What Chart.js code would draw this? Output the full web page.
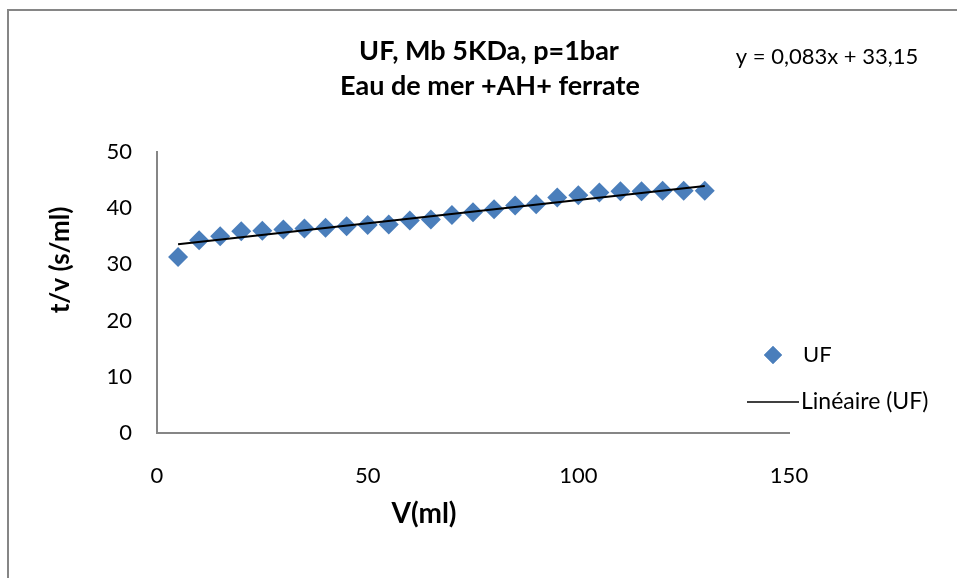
<!DOCTYPE html>
<html>
<head>
<meta charset="utf-8">
<script src="https://cdn.jsdelivr.net/npm/chart.js@4/dist/chart.umd.min.js"></script>
<style>
  html, body { margin: 0; padding: 0; background: #fff; }
  #wrap { position: relative; width: 957px; height: 578px; }
</style>
</head>
<body>
<div id="wrap"><canvas id="c" width="957" height="578"></canvas></div>
<script>
// Filtration volume V (ml) and t/V (s/ml)
const volumes = [5, 10, 15, 20, 25, 30, 35, 40, 45, 50, 55, 60, 65, 70, 75, 80, 85, 90, 95, 100, 105, 110, 115, 120, 125, 130];
const tOverV = [31.3, 34.3, 35.0, 35.9, 36.0, 36.2, 36.4, 36.5, 36.8, 37.0, 37.1, 37.8, 38.0, 38.8, 39.3, 39.8, 40.5, 40.7, 41.9, 42.3, 42.8, 43.0, 43.0, 43.1, 43.1, 43.1];

// Linear fit y = a x + b
const fitSlope = 0.083;
const fitIntercept = 33.15;
const fitRange = [5, 130];

const xTicks = [0, 50, 100, 150];
const yTicks = [0, 10, 20, 30, 40, 50];

const titleLines = ['UF, Mb 5KDa, p=1bar', 'Eau de mer +AH+ ferrate'];
const equationText = 'y = 0,083x + 33,15';
const xTitle = 'V(ml)';
const yTitle = 't/v (s/ml)';
const seriesName = 'UF';
const fitName = 'Linéaire (UF)';

const FONT = 'Lato, "Open Sans", sans-serif';
const BLUE = '#4A7EBB';
const AXIS = '#868686';

const points = volumes.map((v, i) => ({ x: v, y: tOverV[i] }));
const fitPoints = fitRange.map(v => ({ x: v, y: fitSlope * v + fitIntercept }));

// Frame, titles, equation and legend drawn on the canvas
const decor = {
  id: 'decor',
  beforeDraw(chart) {
    const ctx = chart.ctx;
    ctx.save();
    ctx.fillStyle = '#fff';
    ctx.fillRect(0, 0, chart.width, chart.height);
    ctx.strokeStyle = AXIS;
    ctx.lineWidth = 2;
    ctx.strokeRect(8, 10, chart.width + 20, chart.height + 20);
    ctx.restore();
  },
  afterDraw(chart) {
    const ctx = chart.ctx;
    ctx.save();
    ctx.fillStyle = '#000';
    ctx.textAlign = 'center';
    ctx.textBaseline = 'middle';
    ctx.font = 'bold 27px ' + FONT;
    ctx.fillText(titleLines[0], 489, 51);
    ctx.fillText(titleLines[1], 490, 86);

    ctx.font = '22px ' + FONT;
    ctx.fillText(equationText, 827, 57);

    ctx.font = 'bold 28px ' + FONT;
    ctx.fillText(xTitle, 424, 514);

    ctx.save();
    ctx.translate(61, 260);
    ctx.rotate(-Math.PI / 2);
    ctx.font = 'bold 26px ' + FONT;
    ctx.fillText(yTitle, 0, 0);
    ctx.restore();

    // legend
    ctx.fillStyle = BLUE;
    Chart.helpers.drawPoint(ctx, { pointStyle: 'rectRot', radius: 9, borderWidth: 0 }, 773, 355);
    ctx.fill();
    ctx.strokeStyle = '#000';
    ctx.lineWidth = 1.5;
    ctx.beginPath();
    ctx.moveTo(747, 402);
    ctx.lineTo(799, 402);
    ctx.stroke();
    ctx.fillStyle = '#000';
    ctx.textAlign = 'left';
    ctx.font = '22px ' + FONT;
    ctx.fillText(seriesName, 803, 355);
    ctx.font = '23px ' + FONT;
    ctx.fillText(fitName, 801, 402);
    ctx.restore();
  }
};

new Chart(document.getElementById('c'), {
  type: 'scatter',
  data: {
    datasets: [
      {
        label: fitName,
        type: 'line',
        data: fitPoints,
        borderColor: '#000',
        borderWidth: 2,
        pointRadius: 0,
        fill: false,
        order: 0
      },
      {
        label: seriesName,
        data: points,
        pointStyle: 'rectRot',
        pointRadius: 10,
        pointHoverRadius: 10,
        backgroundColor: BLUE,
        borderColor: BLUE,
        borderWidth: 0,
        order: 1
      }
    ]
  },
  options: {
    responsive: false,
    animation: false,
    layout: { padding: { top: 152, right: 168, bottom: 0, left: 0 } },
    plugins: { legend: { display: false }, title: { display: false }, tooltip: { enabled: false } },
    scales: {
      x: {
        type: 'linear',
        min: 0, max: 150,
        afterBuildTicks(scale) { scale.ticks = xTicks.map(v => ({ value: v })); },
        afterFit(scale) { scale.height = 145; },
        grid: { display: false, drawTicks: false },
        border: { display: true, color: AXIS, width: 2 },
        ticks: { color: '#000', font: { family: FONT, size: 22 }, padding: 30, maxRotation: 0 }
      },
      y: {
        type: 'linear',
        min: 0, max: 50,
        afterBuildTicks(scale) { scale.ticks = yTicks.map(v => ({ value: v })); },
        afterFit(scale) { scale.width = 157; },
        grid: { display: false, drawTicks: false },
        border: { display: true, color: AXIS, width: 2 },
        ticks: { color: '#000', font: { family: FONT, size: 22 }, padding: 25 }
      }
    }
  },
  plugins: [decor]
});
</script>
</body>
</html>
